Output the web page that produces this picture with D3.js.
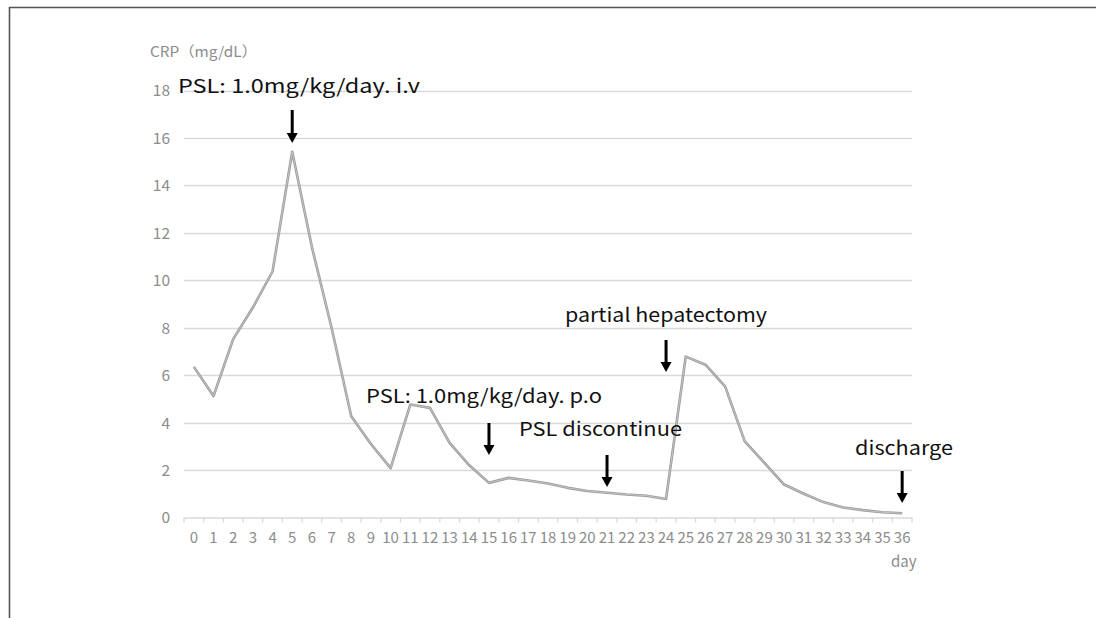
<!DOCTYPE html>
<html><head><meta charset="utf-8">
<script src="https://cdn.jsdelivr.net/npm/d3@7"></script>
<style>html,body{margin:0;padding:0;background:#fff;}svg{display:block;}</style>
</head><body>
<script>
const days = d3.range(0, 37).map(String);
const crp = [6.35, 5.12, 7.52, 8.85, 10.37, 15.42, 11.4, 8.0, 4.27, 3.1, 2.08, 4.76, 4.62, 3.15, 2.2, 1.46, 1.67, 1.56, 1.43, 1.25, 1.12, 1.04, 0.97, 0.92, 0.78, 6.78, 6.44, 5.53, 3.21, 2.3, 1.39, 1.0, 0.65, 0.42, 0.31, 0.22, 0.18];
const yTicks = [0, 2, 4, 6, 8, 10, 12, 14, 16, 18];
const annotations = [
  {text: "PSL: 1.0mg/kg/day. i.v", day: "5"},
  {text: "PSL: 1.0mg/kg/day. p.o", day: "15"},
  {text: "PSL discontinue", day: "21"},
  {text: "partial hepatectomy", day: "24"},
  {text: "discharge", day: "36"}
];
const yTitle = "CRP（mg/dL）";
const xTitle = "day";

// layout (positions/styles kept separate from data)
const annLayout = [
  {x: 178, y: 93, w: 242, top: 110, bottom: 143},
  {x: 366, y: 403, w: 236, top: 423, bottom: 455},
  {x: 519, y: 436, w: 163, top: 455, bottom: 487},
  {x: 565, y: 322, w: 202, top: 340, bottom: 372},
  {x: 855, y: 455, w: 98, top: 471, bottom: 503}
];

const W = 1096, H = 618;
const svg = d3.select("body").append("svg").attr("width", W).attr("height", H);

// frame
svg.append("path").attr("d", `M9.5,${H} L9.5,7.5 L${W},7.5`)
  .attr("fill", "none").attr("stroke", "#555").attr("stroke-width", 1.6);

const x = d3.scaleBand().domain(days).range([184, 912]).paddingInner(0).paddingOuter(0);
const y = d3.scaleLinear().domain([0, 18]).range([517.5, 90.5]);

const font = "'Noto Sans CJK JP', 'Noto Sans', sans-serif";
const tickColor = "#8c8c8c";

// gridlines
svg.append("g").selectAll("line").data(yTicks.filter(d => d > 0)).join("line")
  .attr("x1", 184).attr("x2", 912)
  .attr("y1", d => Math.round(y(d)) + 0.5).attr("y2", d => Math.round(y(d)) + 0.5)
  .attr("stroke", "#d9d9d9").attr("stroke-width", 1.3);

// y axis labels
const yAxis = d3.axisLeft(y).tickValues(yTicks).tickSize(0).tickPadding(0);
const gy = svg.append("g").attr("transform", "translate(170,0)").call(yAxis);
gy.select(".domain").remove();
gy.selectAll("text").attr("font-family", font).attr("font-size", 15.5).attr("fill", tickColor).attr("dy", "0.35em");

// x axis
const xAxis = d3.axisBottom(x).tickSize(0).tickPadding(0);
const gx = svg.append("g").attr("transform", "translate(0,517.5)").call(xAxis);
gx.select(".domain").attr("stroke", "#d9d9d9").attr("stroke-width", 1.3);
gx.selectAll("text").attr("font-family", font).attr("font-size", 15).attr("fill", tickColor)
  .attr("dy", 0).attr("y", 25.5);
// tick marks at band boundaries
const bounds = days.map(d => x(d)).concat([x(days[days.length - 1]) + x.bandwidth()]);
gx.append("g").selectAll("line").data(bounds).join("line")
  .attr("x1", d => d).attr("x2", d => d).attr("y1", 0).attr("y2", 5)
  .attr("stroke", "#d9d9d9").attr("stroke-width", 1.3);

// titles
svg.append("text").attr("x", 150).attr("y", 57).text(yTitle)
  .attr("font-family", font).attr("font-size", 14.5).attr("fill", tickColor)
  .attr("textLength", 107).attr("lengthAdjust", "spacingAndGlyphs");
svg.append("text").attr("x", 891).attr("y", 567).text(xTitle)
  .attr("font-family", font).attr("font-size", 15).attr("fill", tickColor);

// line
const line = d3.line().x((d, i) => x(days[i]) + x.bandwidth() / 2).y(d => y(d));
svg.append("path").datum(crp).attr("d", line)
  .attr("fill", "none").attr("stroke", "#9a9a9a").attr("stroke-width", 2.6)
  .attr("stroke-linejoin", "round");
svg.append("path").datum(crp).attr("d", line)
  .attr("fill", "none").attr("stroke", "#c4c4c4").attr("stroke-width", 1)
  .attr("stroke-linejoin", "round");

// annotations
annotations.forEach((a, i) => {
  const L = annLayout[i];
  svg.append("text").attr("x", L.x).attr("y", L.y).text(a.text)
    .attr("font-family", font).attr("font-size", 19).attr("fill", "#111")
    .attr("textLength", L.w).attr("lengthAdjust", "spacingAndGlyphs");
  const cx = x(a.day) + x.bandwidth() / 2;
  const headH = 10;
  svg.append("line").attr("x1", cx).attr("x2", cx).attr("y1", L.top).attr("y2", L.bottom - headH + 1)
    .attr("stroke", "#000").attr("stroke-width", 3);
  svg.append("path")
    .attr("d", `M${cx - 5.5},${L.bottom - headH} L${cx + 5.5},${L.bottom - headH} L${cx},${L.bottom} Z`)
    .attr("fill", "#000");
});
</script>
</body></html>
